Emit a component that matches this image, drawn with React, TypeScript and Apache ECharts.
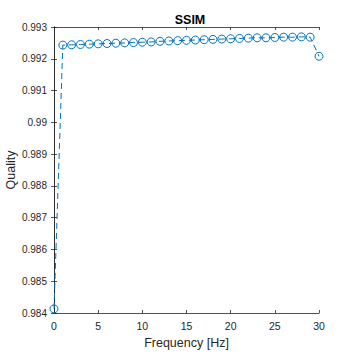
import React, { useEffect, useRef } from "react";
import * as echarts from "echarts";

const freqs = [0,1,2,3,4,5,6,7,8,9,10,11,12,13,14,15,16,17,18,19,20,21,22,23,24,25,26,27,28,29,30];
const ssim = [0.98413,0.99243,0.99244,0.99245,0.99246,0.99247,0.99248,0.99249,0.9925,0.99251,0.99252,0.99253,0.99255,0.99256,0.99257,0.99258,0.99259,0.9926,0.99261,0.99262,0.99263,0.99264,0.99265,0.99266,0.99266,0.99267,0.99268,0.99268,0.99269,0.99268,0.99208];
const yTicks = ["0.984","0.985","0.986","0.987","0.988","0.989","0.99","0.991","0.992","0.993"];

export default function App() {
  const ref = useRef<HTMLDivElement>(null);
  useEffect(() => {
    const chart = echarts.init(ref.current!, null, { renderer: "svg" });
    const font = "Arial";
    const axisColor = "#262626";
    const lineStyle = { color: axisColor, width: 0.8 };
    chart.setOption({
      animation: false,
      backgroundColor: "#fff",
      title: {
        text: "SSIM",
        left: 185,
        top: 8,
        textAlign: "center",
        textStyle: { fontFamily: font, fontSize: 12.5, fontWeight: "bold", color: "#000" },
      },
      grid: { left: 54, right: 35, top: 27, bottom: 41, containLabel: false, outerBoundsMode: "none" },
      xAxis: [
        {
          type: "value",
          min: 0,
          max: 30,
          interval: 5,
          name: "Frequency [Hz]",
          nameLocation: "middle",
          nameGap: 23,
          nameMoveOverlap: false,
          nameTextStyle: { fontFamily: font, fontSize: 12.5, color: axisColor },
          axisLine: { show: true, lineStyle },
          axisTick: { show: true, inside: true, length: 3, lineStyle },
          axisLabel: { fontFamily: font, fontSize: 10.5, color: axisColor, margin: 7 },
          splitLine: { show: false },
        },
        {
          type: "value",
          position: "top",
          min: 0,
          max: 30,
          interval: 5,
          axisLine: { show: true, lineStyle },
          axisTick: { show: true, inside: true, length: 3, lineStyle },
          axisLabel: { show: false },
          splitLine: { show: false },
        },
      ],
      yAxis: [
        {
          type: "value",
          min: 0.984,
          max: 0.993,
          interval: 0.001,
          name: "Quality",
          nameLocation: "middle",
          nameGap: 37,
          nameMoveOverlap: false,
          nameTextStyle: { fontFamily: font, fontSize: 12.5, color: axisColor },
          axisLine: { show: true, lineStyle },
          axisTick: { show: true, inside: true, length: 3, lineStyle },
          axisLabel: {
            fontFamily: font,
            fontSize: 10,
            color: axisColor,
            margin: 7,
            formatter: (v: number) => {
              const i = Math.round((v - 0.984) * 1000);
              return yTicks[i] ?? "";
            },
          },
          splitLine: { show: false },
        },
        {
          type: "value",
          position: "right",
          min: 0.984,
          max: 0.993,
          interval: 0.001,
          axisLine: { show: true, lineStyle },
          axisTick: { show: true, inside: true, length: 3, lineStyle },
          axisLabel: { show: false },
          splitLine: { show: false },
        },
      ],
      series: [
        {
          type: "line",
          data: freqs.map((f, i) => [f, ssim[i]]),
          symbol: "circle",
          symbolSize: 8,
          showAllSymbol: true,
          itemStyle: { color: "rgba(0,0,0,0)", borderColor: "#0072BD", borderWidth: 1 },
          lineStyle: { color: "#0072BD", width: 1, type: [6, 4] },
          xAxisIndex: 0,
          yAxisIndex: 0,
        },
      ],
    });
    return () => chart.dispose();
  }, []);
  return <div ref={ref} style={{ width: 354, height: 354, position: "absolute", left: 0, top: 0 }} />;
}
